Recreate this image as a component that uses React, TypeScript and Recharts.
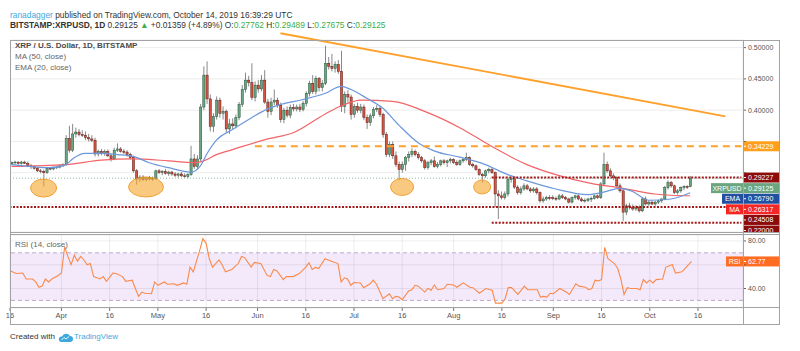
import React from "react";
import {
  Bar,
  CartesianGrid,
  ComposedChart,
  Line,
  ReferenceArea,
  ReferenceDot,
  ReferenceLine,
  XAxis,
  YAxis,
} from "recharts";

const FONT = "'Liberation Sans', Arial, sans-serif";

// days are counted from 1 Mar 2019; first bar is 16 Mar, empty slots run on past 14 Oct
const FIRST_DAY = 15;
const LAST_SLOT = 243;

// daily bars: [open, high, low, close]
const MARCH = [
  [0.314, 0.318, 0.312, 0.316], [0.316, 0.319, 0.313, 0.317], [0.317, 0.318, 0.313, 0.315], [0.315, 0.319, 0.313, 0.317],
  [0.317, 0.319, 0.314, 0.315], [0.315, 0.318, 0.309, 0.311], [0.311, 0.314, 0.306, 0.31], [0.31, 0.312, 0.305, 0.307],
  [0.307, 0.309, 0.301, 0.303], [0.303, 0.306, 0.299, 0.302], [0.302, 0.305, 0.278, 0.3], [0.3, 0.309, 0.298, 0.307],
  [0.307, 0.309, 0.304, 0.306], [0.306, 0.31, 0.304, 0.308], [0.308, 0.311, 0.306, 0.309], [0.309, 0.313, 0.307, 0.311],
];
const APRIL = [
  [0.311, 0.315, 0.309, 0.313], [0.313, 0.36, 0.311, 0.355], [0.355, 0.375, 0.332, 0.336], [0.336, 0.378, 0.333, 0.362],
  [0.362, 0.372, 0.356, 0.365], [0.365, 0.37, 0.358, 0.361], [0.361, 0.368, 0.357, 0.36], [0.36, 0.366, 0.352, 0.356],
  [0.356, 0.362, 0.35, 0.354], [0.354, 0.36, 0.349, 0.352], [0.352, 0.356, 0.326, 0.33], [0.33, 0.337, 0.326, 0.334],
  [0.334, 0.338, 0.328, 0.331], [0.331, 0.337, 0.327, 0.334], [0.334, 0.337, 0.325, 0.327], [0.327, 0.33, 0.318, 0.322],
  [0.322, 0.34, 0.32, 0.336], [0.336, 0.347, 0.333, 0.338], [0.338, 0.341, 0.332, 0.334], [0.334, 0.338, 0.33, 0.333],
  [0.333, 0.336, 0.326, 0.329], [0.329, 0.332, 0.321, 0.324], [0.324, 0.327, 0.3, 0.303], [0.303, 0.306, 0.281, 0.29],
  [0.29, 0.296, 0.285, 0.293], [0.293, 0.296, 0.287, 0.289], [0.289, 0.293, 0.286, 0.292], [0.292, 0.295, 0.288, 0.29],
  [0.29, 0.294, 0.287, 0.291], [0.291, 0.305, 0.289, 0.303],
];
const MAY = [
  [0.303, 0.306, 0.298, 0.3], [0.3, 0.304, 0.296, 0.302], [0.302, 0.306, 0.297, 0.299], [0.299, 0.303, 0.295, 0.301],
  [0.301, 0.303, 0.295, 0.298], [0.298, 0.301, 0.293, 0.296], [0.296, 0.3, 0.292, 0.298], [0.298, 0.301, 0.293, 0.295],
  [0.295, 0.299, 0.292, 0.294], [0.294, 0.299, 0.291, 0.297], [0.297, 0.343, 0.295, 0.322], [0.322, 0.33, 0.306, 0.31],
  [0.31, 0.328, 0.305, 0.322], [0.322, 0.41, 0.318, 0.405], [0.405, 0.47, 0.4, 0.456], [0.456, 0.478, 0.41, 0.418],
  [0.418, 0.425, 0.366, 0.374], [0.374, 0.395, 0.365, 0.39], [0.39, 0.422, 0.385, 0.416], [0.416, 0.42, 0.388, 0.395],
  [0.395, 0.406, 0.385, 0.398], [0.398, 0.401, 0.364, 0.37], [0.37, 0.386, 0.362, 0.378], [0.378, 0.387, 0.369, 0.375],
  [0.375, 0.393, 0.371, 0.388], [0.388, 0.413, 0.384, 0.409], [0.409, 0.44, 0.405, 0.433], [0.433, 0.46, 0.428, 0.448],
  [0.448, 0.455, 0.438, 0.444], [0.444, 0.475, 0.416, 0.42], [0.42, 0.446, 0.414, 0.44],
];
const JUNE = [
  [0.44, 0.448, 0.428, 0.434], [0.434, 0.456, 0.43, 0.448], [0.448, 0.464, 0.41, 0.413], [0.413, 0.418, 0.388, 0.398],
  [0.398, 0.42, 0.392, 0.413], [0.413, 0.433, 0.408, 0.416], [0.416, 0.42, 0.404, 0.408], [0.408, 0.412, 0.38, 0.385],
  [0.385, 0.404, 0.379, 0.4], [0.4, 0.406, 0.388, 0.392], [0.392, 0.409, 0.387, 0.404], [0.404, 0.41, 0.398, 0.402],
  [0.402, 0.409, 0.398, 0.405], [0.405, 0.41, 0.397, 0.401], [0.401, 0.415, 0.398, 0.411], [0.411, 0.43, 0.406, 0.427],
  [0.427, 0.447, 0.422, 0.443], [0.443, 0.456, 0.426, 0.43], [0.43, 0.455, 0.425, 0.451], [0.451, 0.453, 0.43, 0.436],
  [0.436, 0.448, 0.43, 0.443], [0.443, 0.503, 0.44, 0.475], [0.475, 0.485, 0.465, 0.47], [0.47, 0.49, 0.462, 0.467],
  [0.467, 0.478, 0.46, 0.473], [0.473, 0.48, 0.458, 0.462], [0.462, 0.495, 0.397, 0.406], [0.406, 0.43, 0.395, 0.425],
  [0.425, 0.432, 0.412, 0.421], [0.421, 0.425, 0.385, 0.393],
];
const JULY = [
  [0.393, 0.41, 0.388, 0.406], [0.406, 0.412, 0.396, 0.4], [0.4, 0.41, 0.395, 0.405], [0.405, 0.409, 0.384, 0.388],
  [0.388, 0.393, 0.37, 0.38], [0.38, 0.395, 0.375, 0.391], [0.391, 0.405, 0.387, 0.401], [0.401, 0.408, 0.397, 0.403],
  [0.403, 0.406, 0.389, 0.393], [0.393, 0.396, 0.356, 0.361], [0.361, 0.365, 0.325, 0.329], [0.329, 0.35, 0.325, 0.345],
  [0.345, 0.35, 0.322, 0.327], [0.327, 0.334, 0.309, 0.313], [0.313, 0.318, 0.288, 0.305], [0.305, 0.318, 0.3, 0.313],
  [0.313, 0.327, 0.303, 0.324], [0.324, 0.334, 0.318, 0.329], [0.329, 0.339, 0.325, 0.334], [0.334, 0.337, 0.326, 0.329],
  [0.329, 0.333, 0.321, 0.324], [0.324, 0.327, 0.316, 0.319], [0.319, 0.322, 0.305, 0.308], [0.308, 0.319, 0.305, 0.316],
  [0.316, 0.322, 0.312, 0.319], [0.319, 0.326, 0.308, 0.31], [0.31, 0.317, 0.307, 0.313], [0.313, 0.321, 0.31, 0.319],
  [0.319, 0.322, 0.313, 0.316], [0.316, 0.321, 0.309, 0.319], [0.319, 0.324, 0.315, 0.321],
];
const AUGUST = [
  [0.321, 0.323, 0.314, 0.316], [0.316, 0.32, 0.311, 0.313], [0.313, 0.321, 0.311, 0.319], [0.319, 0.323, 0.316, 0.321],
  [0.321, 0.332, 0.318, 0.324], [0.324, 0.326, 0.311, 0.313], [0.313, 0.316, 0.308, 0.311], [0.311, 0.313, 0.303, 0.305],
  [0.305, 0.307, 0.295, 0.297], [0.297, 0.3, 0.284, 0.295], [0.295, 0.305, 0.292, 0.303], [0.303, 0.308, 0.299, 0.305],
  [0.305, 0.308, 0.298, 0.3], [0.3, 0.302, 0.245, 0.266], [0.266, 0.272, 0.226, 0.263], [0.263, 0.27, 0.257, 0.26],
  [0.26, 0.27, 0.257, 0.266], [0.266, 0.292, 0.262, 0.289], [0.289, 0.294, 0.284, 0.291], [0.291, 0.293, 0.274, 0.277],
  [0.277, 0.28, 0.265, 0.268], [0.268, 0.278, 0.265, 0.274], [0.274, 0.283, 0.271, 0.279], [0.279, 0.282, 0.272, 0.274],
  [0.274, 0.277, 0.268, 0.271], [0.271, 0.277, 0.268, 0.274], [0.274, 0.277, 0.265, 0.268], [0.268, 0.27, 0.252, 0.255],
  [0.255, 0.262, 0.252, 0.258], [0.258, 0.263, 0.255, 0.26], [0.26, 0.264, 0.256, 0.259],
];
const SEPTEMBER = [
  [0.26, 0.264, 0.256, 0.259], [0.259, 0.262, 0.255, 0.258], [0.258, 0.266, 0.256, 0.263], [0.263, 0.266, 0.258, 0.26],
  [0.26, 0.263, 0.256, 0.258], [0.258, 0.26, 0.251, 0.253], [0.253, 0.262, 0.251, 0.26], [0.26, 0.265, 0.257, 0.263],
  [0.263, 0.265, 0.256, 0.258], [0.258, 0.261, 0.253, 0.255], [0.255, 0.259, 0.252, 0.256], [0.256, 0.26, 0.253, 0.258],
  [0.258, 0.262, 0.253, 0.259], [0.259, 0.265, 0.257, 0.263], [0.263, 0.265, 0.258, 0.26], [0.26, 0.285, 0.258, 0.282],
  [0.282, 0.332, 0.28, 0.313], [0.313, 0.318, 0.3, 0.303], [0.303, 0.307, 0.293, 0.295], [0.295, 0.299, 0.288, 0.292],
  [0.292, 0.294, 0.276, 0.279], [0.279, 0.283, 0.268, 0.271], [0.271, 0.274, 0.223, 0.237], [0.237, 0.25, 0.232, 0.247],
  [0.247, 0.252, 0.241, 0.245], [0.245, 0.249, 0.239, 0.242], [0.242, 0.248, 0.239, 0.245], [0.245, 0.248, 0.236, 0.239],
  [0.239, 0.26, 0.237, 0.258], [0.258, 0.262, 0.248, 0.25],
];
const OCTOBER = [
  [0.25, 0.256, 0.247, 0.253], [0.253, 0.256, 0.248, 0.25], [0.25, 0.255, 0.247, 0.253], [0.253, 0.257, 0.25, 0.255],
  [0.255, 0.259, 0.252, 0.258], [0.258, 0.279, 0.256, 0.276], [0.276, 0.288, 0.273, 0.284], [0.284, 0.287, 0.276, 0.279],
  [0.279, 0.281, 0.266, 0.268], [0.268, 0.274, 0.265, 0.271], [0.271, 0.278, 0.268, 0.276], [0.276, 0.28, 0.272, 0.278],
  [0.278, 0.28, 0.274, 0.27762], [0.27762, 0.29489, 0.27675, 0.29125],
];

// indicator readings [day, value]
const MA50 = [
  [15, 0.31], [32, 0.313], [43, 0.32], [53, 0.322], [64, 0.319], [72, 0.316], [75, 0.319], [79, 0.329], [84, 0.337],
  [95, 0.354], [103, 0.364], [113, 0.394], [119, 0.409], [124, 0.416], [134, 0.414], [145, 0.396], [155, 0.372],
  [165, 0.342], [176, 0.313], [185, 0.297], [196, 0.283], [206, 0.275], [216, 0.266], [221, 0.264], [227, 0.26317],
];
const EMA20 = [
  [15, 0.313], [27, 0.308], [32, 0.313], [34, 0.322], [38, 0.331], [43, 0.331], [48, 0.329], [53, 0.326], [58, 0.316],
  [64, 0.308], [71, 0.301], [74, 0.311], [76, 0.33], [79, 0.352], [84, 0.369], [90, 0.388], [95, 0.402], [99, 0.409],
  [106, 0.417], [113, 0.427], [118, 0.438], [121, 0.433], [126, 0.419], [131, 0.403], [136, 0.376], [142, 0.348],
  [147, 0.335], [155, 0.325], [163, 0.313], [170, 0.297], [176, 0.287], [185, 0.274], [195, 0.265], [200, 0.269],
  [205, 0.275], [209, 0.27], [214, 0.256], [221, 0.258], [227, 0.2679],
];
const RSI14 = [
  [15, 55], [17, 52.6], [19, 53], [20, 48], [22, 48], [23, 45.5], [24, 41], [25, 42], [26, 48], [27, 45.5], [28, 48],
  [30, 51], [31, 53], [32, 75], [33, 67], [34, 60], [35, 68], [36, 63], [37, 67], [38, 64], [39, 60], [40, 61], [41, 50],
  [43, 48], [44, 50], [45, 46], [47, 53], [48, 52.6], [50, 50], [51, 46], [53, 47], [54, 40], [55, 33.4], [56, 37],
  [57, 36], [59, 35.6], [60, 45.5], [61, 42.7], [63, 45.5], [64, 43.6], [66, 44], [67, 42.7], [69, 44.7], [70, 43.6],
  [71, 58], [72, 54], [74, 72], [75, 82], [76, 78], [77, 65], [78, 58], [80, 64], [81, 60], [82, 54], [84, 56], [86, 61],
  [87, 67], [88, 66], [90, 58], [91, 62], [93, 61], [95, 51], [96, 50], [97, 56], [98, 55], [100, 47.5], [101, 50],
  [103, 50], [105, 52.6], [107, 58], [108, 61.6], [109, 56], [110, 57.7], [111, 56.8], [113, 65], [114, 64], [115, 63],
  [117, 61], [118, 45.5], [119, 49], [120, 48], [121, 42.7], [122, 45], [124, 44.7], [125, 40.7], [127, 44], [128, 47],
  [129, 43.6], [131, 31.4], [133, 35.6], [134, 31.4], [135, 33.4], [136, 32.8], [137, 30.6], [139, 38], [140, 39],
  [141, 42.7], [142, 42], [144, 37], [145, 40], [146, 38.5], [147, 43], [148, 39], [150, 40], [151, 43.6], [153, 43],
  [154, 41], [156, 44.7], [158, 41], [159, 40.7], [161, 36], [163, 40], [165, 38.5], [166, 27.7], [168, 27.7],
  [169, 31.4], [170, 40.7], [171, 40.7], [173, 35], [175, 42], [176, 39], [179, 39], [180, 32.8], [181, 33.4],
  [182, 32.8], [183, 36], [184, 35.6], [186, 40], [188, 37], [189, 35], [191, 44], [192, 42], [194, 41], [195, 39],
  [196, 40], [197, 47], [198, 46.4], [199, 47.5], [200, 74.6], [201, 65], [203, 61], [204, 57], [205, 48], [206, 35],
  [207, 40.7], [208, 40], [210, 40], [211, 39], [212, 47.5], [213, 44.7], [214, 47], [215, 44.7], [216, 47.5],
  [218, 48], [219, 58], [221, 60], [222, 53], [224, 54], [225, 57], [227, 62.77],
];

const DATE_TICKS = [15, 31, 46, 61, 76, 92, 107, 122, 137, 153, 168, 184, 199, 214, 229];
const DATE_LABELS = ["16", "Apr", "16", "May", "16", "Jun", "16", "Jul", "16", "Aug", "16", "Sep", "16", "Oct", "16"];
const PRICE_TICKS = [0.25, 0.3, 0.35, 0.4, 0.45, 0.5];
const PRICE_DOMAIN: [number, number] = [0.2052, 0.5122];
const RSI_TICKS = [40, 60, 80];
const RSI_DOMAIN: [number, number] = [23.6, 85];

// drawn levels
const TREND_LINE = [{ x: 99, y: 0.523 }, { x: 238, y: 0.39 }];
const RESISTANCE = 0.34229;
const SUPPORTS = [0.29227, 0.24508, 0.22];
const LAST_PRICE = 0.29125;
const CIRCLED_LOWS = [
  { d: 25, price: 0.2755, rx: 13, ry: 9 },
  { d: 57, price: 0.2772, rx: 17.5, ry: 10 },
  { d: 137, price: 0.2772, rx: 11.5, ry: 8.5 },
  { d: 162, price: 0.2772, rx: 8.5, ry: 7 },
];

const PRICE_TAGS = [
  { value: 0.34229, color: "#ff9f1c", name: "", nameW: 0 },
  { value: 0.29227, color: "#8e0b0b", name: "", nameW: 0 },
  { value: 0.29125, color: "#6aa57f", name: "XRPUSD", nameW: 32 },
  { value: 0.2679, color: "#2150a0", name: "EMA", nameW: 21 },
  { value: 0.26317, color: "#f52626", name: "MA", nameW: 17 },
  { value: 0.24508, color: "#8e0b0b", name: "", nameW: 0 },
  { value: 0.22, color: "#8e0b0b", name: "", nameW: 0 },
];
const RSI_TAG = { value: 62.77, color: "#ff6d22", name: "RSI", nameW: 17 };

const CANDLES = [...MARCH, ...APRIL, ...MAY, ...JUNE, ...JULY, ...AUGUST, ...SEPTEMBER, ...OCTOBER];

const maByDay = new Map(MA50.map(([d, v]) => [d, v]));
const emaByDay = new Map(EMA20.map(([d, v]) => [d, v]));
const rsiByDay = new Map(RSI14.map(([d, v]) => [d, v]));

const rows: any[] = [];
for (let d = FIRST_DAY; d <= LAST_SLOT; d++) {
  const k = CANDLES[d - FIRST_DAY];
  rows.push({
    d,
    o: k ? k[0] : undefined,
    h: k ? k[1] : undefined,
    l: k ? k[2] : undefined,
    c: k ? k[3] : undefined,
    ma: maByDay.get(d),
    ema: emaByDay.get(d),
    rsi: rsiByDay.get(d),
  });
}

// pane heights, used only to stack the axis tags and to hide the tick texts they cover
const PLOT_H = 192;
const RSI_H = 73;
const TAG_GAP = 10.6;
const pxPerUnit = PLOT_H / (PRICE_DOMAIN[1] - PRICE_DOMAIN[0]);
const tagShift: number[] = [];
const tagPos: number[] = [];
{
  let prev = -Infinity;
  PRICE_TAGS.forEach((t) => {
    const natural = (PRICE_DOMAIN[1] - t.value) * pxPerUnit;
    const y = Math.max(natural, prev + TAG_GAP);
    tagShift.push(y - natural);
    tagPos.push(y);
    prev = y;
  });
}
const coveredPrice = (v: number) => tagPos.some((ty) => Math.abs((PRICE_DOMAIN[1] - v) * pxPerUnit - ty) < 8);
const rsiPx = RSI_H / (RSI_DOMAIN[1] - RSI_DOMAIN[0]);
const coveredRsi = (v: number) => Math.abs(v - RSI_TAG.value) * rsiPx < 8;

function Candle(props: any) {
  const { x, y, width, height, payload } = props;
  if (payload == null || payload.h == null) return null;
  const top = Math.min(y, y + height);
  const span = Math.abs(height);
  const range = payload.h - payload.l;
  const k = range > 0 ? span / range : 0;
  const cx = x + width / 2;
  const yo = top + (payload.h - payload.o) * k;
  const yc = top + (payload.h - payload.c) * k;
  const up = payload.c >= payload.o;
  const bodyTop = Math.min(yo, yc);
  const bodyH = Math.max(Math.abs(yc - yo), 0.8);
  return (
    <g>
      <line x1={cx} x2={cx} y1={top} y2={top + span} stroke="#7b7b7d" strokeWidth={0.9} />
      <rect
        x={cx - 1.1}
        y={bodyTop}
        width={2.2}
        height={bodyH}
        fill={up ? "#6ba583" : "#d75442"}
        stroke={up ? "#225437" : "#5b1a13"}
        strokeWidth={0.5}
      />
    </g>
  );
}

function axisTick(format: (v: number) => string, covered: (v: number) => boolean) {
  return (p: any) => {
    const v = p.payload.value;
    return (
      <g>
        <line x1={p.x - 5} x2={p.x - 2} y1={p.y} y2={p.y} stroke="#666" strokeWidth={1} />
        {covered(v) ? null : (
          <text x={p.x} y={p.y} dy="0.35em" fontSize={7} fill="#555" fontFamily={FONT}>
            {format(v)}
          </text>
        )}
      </g>
    );
  };
}

function tagLabel(tag: { value: number; color: string; name: string; nameW: number }, dy: number, digits: number) {
  return (p: any) => {
    const vb = p.viewBox || {};
    const ax = vb.x + vb.width;
    const y = vb.y + dy;
    return (
      <g>
        {tag.name ? (
          <g>
            <rect x={ax - tag.nameW} y={y - 5} width={tag.nameW} height={10} fill={tag.color} />
            <text x={ax - tag.nameW / 2} y={y} dy="0.35em" textAnchor="middle" fontSize={7} fill="#fff" fontFamily={FONT}>
              {tag.name}
            </text>
          </g>
        ) : null}
        <rect x={ax} y={y - 5} width={36} height={10} fill={tag.color} />
        <line x1={ax} x2={ax + 3} y1={y} y2={y} stroke="#fff" strokeWidth={1} />
        <text x={ax + 5} y={y} dy="0.35em" fontSize={7} fill="#fff" fontFamily={FONT}>
          {tag.value.toFixed(digits)}
        </text>
      </g>
    );
  };
}

function Ellipse(rx: number, ry: number) {
  return (p: any) => (
    <ellipse cx={p.cx} cy={p.cy} rx={rx} ry={ry} fill="rgba(245,168,50,0.62)" stroke="rgba(240,150,30,0.85)" strokeWidth={1} />
  );
}

const GREEN = "#3cae4a";
const BLUE = "#3ea8de";

export default function App() {
  return (
    <div
      style={{
        position: "absolute",
        left: 0,
        top: 0,
        width: 800,
        height: 351,
        background: "#fff",
        fontFamily: FONT,
        overflow: "hidden",
        color: "#333",
      }}
    >
      {/* header */}
      <div style={{ position: "absolute", left: 10, top: 10, fontSize: 8.4, lineHeight: "10px", whiteSpace: "nowrap" }}>
        <span style={{ color: BLUE }}>ranadagger</span> published on TradingView.com, October 14, 2019 16:39:29 UTC
      </div>
      <div style={{ position: "absolute", left: 10, top: 20, fontSize: 8.4, lineHeight: "10px", whiteSpace: "nowrap" }}>
        <b>BITSTAMP:XRPUSD, 1D</b> 0.29125 <span style={{ color: GREEN }}>▲</span> +0.01359 (+4.89%) O:
        <span style={{ color: GREEN }}>0.27762</span> H:<span style={{ color: GREEN }}>0.29489</span> L:
        <span style={{ color: GREEN }}>0.27675</span> C:<span style={{ color: GREEN }}>0.29125</span>
      </div>

      {/* price pane */}
      <div style={{ position: "absolute", left: 10, top: 30 }}>
        <ComposedChart width={769} height={203} data={rows} margin={{ top: 10, right: 0, bottom: 0, left: 0 }}>
          <CartesianGrid stroke="#ededed" />
          <XAxis dataKey="d" ticks={DATE_TICKS} interval={0} height={1} tick={false} axisLine={false} tickLine={false} />
          <YAxis
            orientation="right"
            width={36}
            domain={PRICE_DOMAIN}
            allowDataOverflow
            ticks={PRICE_TICKS}
            interval={0}
            tick={axisTick((v) => v.toFixed(5), coveredPrice)}
            tickSize={3}
            tickMargin={2}
            tickLine={false}
            axisLine={false}
          />
          <ReferenceLine y={LAST_PRICE} stroke="#6ba583" strokeDasharray="1 2" strokeOpacity={0.8} />
          <Bar
            dataKey={(r: any) => (r.h == null ? null : [r.l, r.h])}
            shape={(p: any) => <Candle {...p} />}
            isAnimationActive={false}
          />
          <Line dataKey="ma" type="monotone" stroke="#f26468" strokeWidth={1.2} dot={false} connectNulls isAnimationActive={false} />
          <Line dataKey="ema" type="monotone" stroke="#6b97dc" strokeWidth={1.2} dot={false} connectNulls isAnimationActive={false} />
          <ReferenceLine
            segment={[{ x: 91, y: RESISTANCE }, { x: LAST_SLOT, y: RESISTANCE }]}
            stroke="#ffa02a"
            strokeWidth={2}
            strokeDasharray="7 5"
          />
          <ReferenceLine y={SUPPORTS[1]} stroke="#a01818" strokeWidth={2} strokeDasharray="2 1.5" />
          <ReferenceLine
            segment={[{ x: 165, y: SUPPORTS[0] }, { x: LAST_SLOT, y: SUPPORTS[0] }]}
            stroke="#a01818"
            strokeWidth={2}
            strokeDasharray="2 1.5"
          />
          <ReferenceLine
            segment={[{ x: 165, y: SUPPORTS[2] }, { x: LAST_SLOT, y: SUPPORTS[2] }]}
            stroke="#a01818"
            strokeWidth={2}
            strokeDasharray="2 1.5"
          />
          <ReferenceLine segment={TREND_LINE} stroke="#ffa02a" strokeWidth={1.8} ifOverflow="visible" />
          {CIRCLED_LOWS.map((e) => (
            <ReferenceDot key={e.d} x={e.d} y={e.price} r={1} shape={Ellipse(e.rx, e.ry)} />
          ))}
          {PRICE_TAGS.map((t, i) => (
            <ReferenceLine
              key={t.value}
              y={t.value}
              stroke="none"
              ifOverflow="visible"
              label={tagLabel(t, tagShift[i], 5)}
            />
          ))}
        </ComposedChart>
      </div>

      {/* RSI pane */}
      <div style={{ position: "absolute", left: 0, top: 235 }}>
        <ComposedChart width={779} height={89} data={rows} margin={{ top: 0, right: 0, bottom: 0, left: 10 }}>
          <ReferenceArea y1={30} y2={70} fill="#8a10d8" fillOpacity={0.09} stroke="none" />
          <CartesianGrid stroke="rgba(0,0,0,0.07)" />
          <XAxis
            dataKey="d"
            ticks={DATE_TICKS}
            interval={0}
            height={16}
            tickFormatter={(v: number) => DATE_LABELS[DATE_TICKS.indexOf(v)]}
            tick={{ fontSize: 7.5, fill: "#555", fontFamily: FONT }}
            tickSize={3}
            tickMargin={2}
            tickLine={{ stroke: "#777" }}
            axisLine={false}
          />
          <YAxis
            orientation="right"
            width={36}
            domain={RSI_DOMAIN}
            allowDataOverflow
            ticks={RSI_TICKS}
            interval={0}
            tick={axisTick((v) => v.toFixed(2), coveredRsi)}
            tickSize={3}
            tickMargin={2}
            tickLine={false}
            axisLine={false}
          />
          <ReferenceLine y={70} stroke="#b9aac8" strokeDasharray="4 3" />
          <ReferenceLine y={30} stroke="#b9aac8" strokeDasharray="4 3" />
          <Line dataKey="rsi" type="linear" stroke="#fa8a4a" strokeWidth={1.1} dot={false} connectNulls isAnimationActive={false} />
          <ReferenceLine y={RSI_TAG.value} stroke="none" ifOverflow="visible" label={tagLabel(RSI_TAG, 0, 2)} />
        </ComposedChart>
      </div>

      {/* frame */}
      <div style={{ position: "absolute", left: 10, top: 40, width: 768, height: 283, border: "1px solid #a3a3a3" }} />
      <div style={{ position: "absolute", left: 743, top: 40, width: 1, height: 284, background: "#a3a3a3" }} />
      <div style={{ position: "absolute", left: 10, top: 232, width: 769, height: 1, background: "#a3a3a3" }} />
      <div style={{ position: "absolute", left: 10, top: 234, width: 769, height: 1, background: "#a3a3a3" }} />
      <div style={{ position: "absolute", left: 10, top: 307, width: 769, height: 1, background: "#a3a3a3" }} />

      {/* pane legends */}
      <div style={{ position: "absolute", left: 15, top: 41, fontSize: 8, lineHeight: "10px", color: "#4a4a4a", whiteSpace: "nowrap" }}>
        <div style={{ fontWeight: 600 }}>XRP / U.S. Dollar, 1D, BITSTAMP</div>
        <div style={{ color: "#666", marginTop: 1 }}>MA (50, close)</div>
        <div style={{ color: "#666", marginTop: 1 }}>EMA (20, close)</div>
      </div>
      <div style={{ position: "absolute", left: 15, top: 240, fontSize: 8, lineHeight: "10px", color: "#666", whiteSpace: "nowrap" }}>
        RSI (14, close)
      </div>

      {/* footer */}
      <div
        style={{
          position: "absolute",
          left: 10,
          top: 332,
          fontSize: 8,
          lineHeight: "10px",
          whiteSpace: "nowrap",
          display: "flex",
          alignItems: "center",
          color: "#333",
        }}
      >
        <span>Created with</span>
        <svg width={15} height={9} viewBox="0 0 15 9" style={{ margin: "0 1px 0 3px" }}>
          <path d="M3 9 H12 A3 3 0 0 0 12 3 A4.5 4.5 0 0 0 4 3.5 A2.8 2.8 0 0 0 3 9 Z" fill={BLUE} />
          <path d="M3.5 7 L6 4.5 L8 6 L11 3.5" stroke="#fff" strokeWidth={0.9} fill="none" />
        </svg>
        <span style={{ color: BLUE }}>TradingView</span>
      </div>
    </div>
  );
}
